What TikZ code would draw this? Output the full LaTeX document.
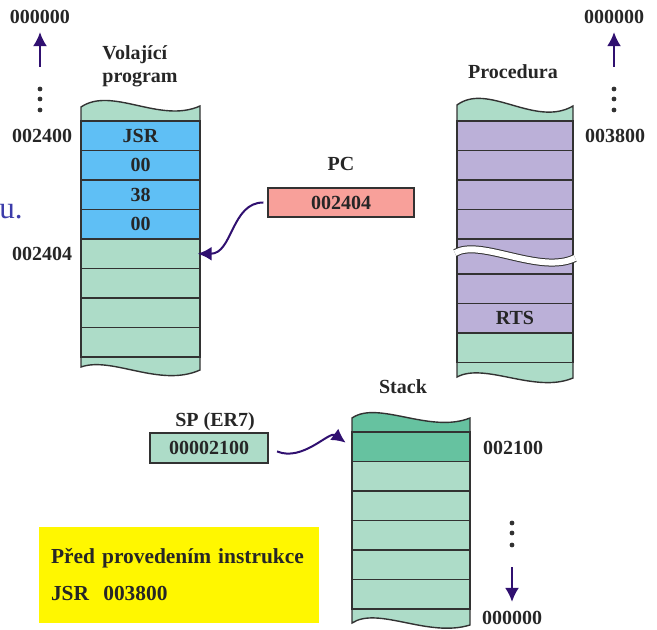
\documentclass[tikz,border=0pt]{standalone}
\usepackage{fontspec}
\setmainfont{Liberation Serif}
\usetikzlibrary{arrows.meta, positioning}
\definecolor{zelena}{RGB}{173,220,200}
\definecolor{tmavazelena}{RGB}{102,194,160}
\definecolor{modra}{RGB}{95,191,245}
\definecolor{fialova}{RGB}{187,176,216}
\definecolor{lososova}{RGB}{248,160,154}
\definecolor{zluta}{RGB}{255,247,0}
\definecolor{indigo}{RGB}{48,16,112}
\definecolor{okraj}{RGB}{50,50,50}
\definecolor{textmodra}{RGB}{60,60,170}
\tikzstyle{bunka} = [draw=okraj, line width=0.7pt, rectangle, inner sep=0pt, minimum height=14.75pt, text=black!85, font=\fontsize{10}{12}\selectfont\bfseries]
\tikzstyle{vlna} = [draw=okraj, line width=0.7pt]
\tikzstyle{popis} = [inner sep=0pt, text=black!85, font=\fontsize{10}{11.5}\selectfont\bfseries]
\tikzstyle{sipka} = [draw=indigo, line width=1pt, -{Latex[length=7pt,width=7pt]}]
\tikzstyle{poznamka} = [fill=zluta, rectangle, minimum width=139pt, minimum height=48pt, text width=128pt, inner xsep=6pt, align=left, text=black!85, font=\fontsize{10.7}{18.5}\selectfont\bfseries]

\begin{document}
\begin{tikzpicture}[x=0.5pt, y=-0.5pt]
	\useasboundingbox (0,0) rectangle (657,630);
	\node[inner sep=0pt, anchor=base west, text=textmodra, font=\fontsize{15.5}{18}\selectfont] (zbytek) at (-1,219) {u.};
	% volajici program
	\filldraw[vlna, fill=zelena] (81,121) -- (81,107) .. controls (112,86) and (160,124) .. (200,106) -- (200,121);
	\filldraw[vlna, fill=zelena] (81,357) -- (81,367) .. controls (112,356) and (160,388) .. (200,370) -- (200,357);
	\foreach \t/\i in {JSR/1, 00/2, 38/3, 00/4}
		\node[bunka, fill=modra, minimum width=59.5pt] (prog\i) at (140.5,{106.25+29.5*\i}) {\t};
	\foreach \i in {5,...,8}
		\node[bunka, fill=zelena, minimum width=59.5pt] (prog\i) at (140.5,{106.25+29.5*\i}) {};
	\node[popis, align=left, anchor=west] (volajici) at (102,66) {Volající\\program};
	\node[popis] (a2400) at (42,136) {002400};
	\node[popis] (a2404) at (42,254) {002404};
	\node[popis] (lnula) at (40,17) {000000};
	\coordinate (lzac) at (40,67);
	\draw[sipka, shorten >=4pt] (lzac) -- (lnula.south);
	\foreach \y in {89,99,110}
		\fill[okraj] (40,\y) circle[radius=1.2pt];
	% procedura
	\filldraw[vlna, fill=zelena] (457,121) -- (457,105) .. controls (488,82) and (535,128) .. (573,106) -- (573,121);
	\filldraw[vlna, fill=zelena] (457,362.5) -- (457,377) .. controls (485,362) and (535,394) .. (573,378) -- (573,362.5);
	\foreach \i in {1,...,4}
		\node[bunka, fill=fialova, minimum width=58pt] (proc\i) at (515,{106.25+29.5*\i}) {};
	\node[bunka, fill=fialova, minimum width=58pt, minimum height=17.5pt] (proc5) at (515,256.5) {};
	\foreach \t/\b/\i in {/fialova/6, RTS/fialova/7, /zelena/8}
		\node[bunka, fill=\b, minimum width=58pt] (proc\i) at (515,{111.75+29.5*\i}) {\t};
	\draw[draw=okraj, line width=0.5pt, double=white, double distance=3pt] (455,253) .. controls (480,238) and (540,275) .. (575,258);
	\node[popis] (procedura) at (513,72) {Procedura};
	\node[popis] (a3800) at (615,136) {003800};
	\node[popis] (rnula) at (614,17) {000000};
	\coordinate (rzac) at (614,67);
	\draw[sipka, shorten >=4pt] (rzac) -- (rnula.south);
	\foreach \y in {89,99,110}
		\fill[okraj] (614,\y) circle[radius=1.2pt];
	% PC
	\node[bunka, fill=lososova, minimum width=73pt, minimum height=14.5pt] (pc) at (341,202.5) {002404};
	\node[popis, above=8pt of pc] (pcpopis) {PC};
	\draw[sipka, shorten <=2pt, shorten >=-1.5pt] (pc.west) .. controls +(-36,0) and +(32,0) .. (prog5.east);
	% stack
	\filldraw[vlna, fill=tmavazelena] (352,432) -- (352,418) .. controls (378,400) and (430,434) .. (470,418) -- (470,432);
	\filldraw[vlna, fill=zelena] (352,609) -- (352,623) .. controls (378,606) and (428,638) .. (470,625) -- (470,609);
	\node[bunka, fill=tmavazelena, minimum width=59pt] (stack1) at (411,446.75) {};
	\foreach \i in {2,...,6}
		\node[bunka, fill=zelena, minimum width=59pt] (stack\i) at (411,{417.25+29.5*\i}) {};
	\node[popis] (stack) at (403,387) {Stack};
	\node[popis] (a2100) at (513,448) {002100};
	\node[popis] (snula) at (512,618) {000000};
	\coordinate (szac) at (512,567);
	\draw[sipka, shorten >=4.5pt] (szac) -- (snula.north);
	\foreach \y in {523,533,545}
		\fill[okraj] (512,\y) circle[radius=1.2pt];
	% SP
	\node[bunka, fill=zelena, minimum width=59pt, minimum height=15pt] (sp) at (209,448) {00002100};
	\node[popis] (sppopis) at (215,422) {SP (ER7)};
	\draw[sipka, shorten <=4.5pt, shorten >=3.5pt] (sp.east) .. controls +(34,14) and +(-22,-16) .. (stack1.west);
	% poznamka
	\node[poznamka] (pozn) at (179,575) {Před provedením instrukce\\JSR~~003800};
\end{tikzpicture}
\end{document}
